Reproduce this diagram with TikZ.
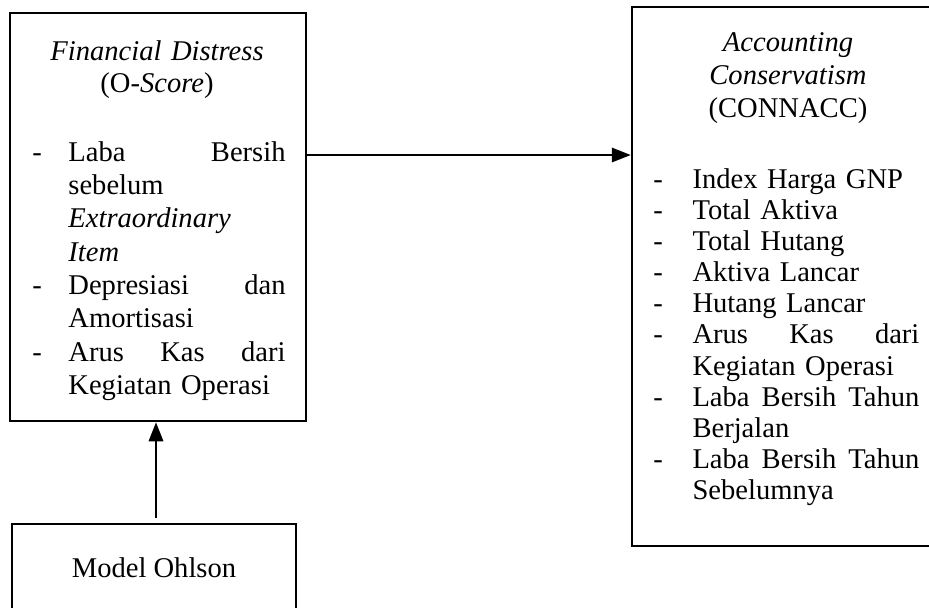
\documentclass[tikz,border=0pt]{standalone}
\usepackage{fontspec}
\setmainfont{Liberation Serif}
\usetikzlibrary{arrows.meta,fit}
\newlength\indL \setlength\indL{15.1pt}
\newlength\indR \setlength\indR{16.4pt}
\newcommand\itemL[1]{\makebox[\indL][l]{-}#1}
\newcommand\contL[1]{\hspace*{\indL}#1}
\newcommand\spreadL[1]{\makebox[\indL][l]{-}\makebox[91.2pt][l]{#1}}
\newcommand\itemR[1]{\makebox[\indR][l]{-}#1}
\newcommand\contR[1]{\hspace*{\indR}#1}
\newcommand\spreadR[1]{\makebox[\indR][l]{-}\makebox[95.3pt][l]{#1}}
\begin{document}
\begin{tikzpicture}[x=0.42pt,y=-0.42pt,
  box/.style={draw,line width=1pt,inner sep=0pt},
  arr/.style={line width=1pt,-{Triangle[length=8pt,width=6pt]}},
  txt/.style={inner sep=0pt,font=\fontsize{12}{14}\selectfont}]
\path[use as bounding box] (0,0) rectangle (929,607);
\fill[white] (0,0) rectangle (929,607);
\clip (0,0) rectangle (929,607);
\node[box,fit={(10,13) (306,421)}] (lb) {};
\node[box,fit={(632,7) (944,546)}] (rb) {};
\node[box,fit={(12,524) (296,650)}] (mb) {};
\coordinate (h) at (0,155);
\draw[arr] (lb.east |- h) -- (rb.west |- h);
\coordinate (v) at (156,0);
\draw[arr,shorten <=2pt] (mb.north -| v) -- (lb.south -| v);
\node[txt,font=\fontsize{12}{13.6}\selectfont,text width=130pt,align=center,anchor=base] (lt) at (157,60)
  {\textit{Financial Distress}\\(O-\textit{Score})};
\node[txt,font=\fontsize{12}{14}\selectfont,text width=130pt,align=center,anchor=base] (rt) at (788,51)
  {\textit{Accounting}\\\textit{Conservatism}\\(CONNACC)};
\node[txt,text width=106.3pt,align=left,anchor=base west] (li) at (32,161)
  {\spreadL{Laba\hfill Bersih}\\
   \contL{sebelum}\\
   \contL{\textit{Extraordinary}}\\
   \contL{\textit{Item}}\\
   \spreadL{Depresiasi\hfill dan}\\
   \contL{Amortisasi}\\
   \spreadL{Arus\hfill Kas\hfill dari}\\
   \contL{Kegiatan Operasi}};
\node[txt,font=\fontsize{12}{13.1}\selectfont,text width=111.7pt,align=left,anchor=base west] (ri) at (653,188)
  {\itemR{Index Harga GNP}\\
   \itemR{Total Aktiva}\\
   \itemR{Total Hutang}\\
   \itemR{Aktiva Lancar}\\
   \itemR{Hutang Lancar}\\
   \spreadR{Arus\hfill Kas\hfill dari}\\
   \contR{Kegiatan Operasi}\\
   \spreadR{Laba\hfill Bersih\hfill Tahun}\\
   \contR{Berjalan}\\
   \spreadR{Laba\hfill Bersih\hfill Tahun}\\
   \contR{Sebelumnya}};
\node[txt,anchor=base] (mt) at (154,577) {Model Ohlson};
\end{tikzpicture}
\end{document}
